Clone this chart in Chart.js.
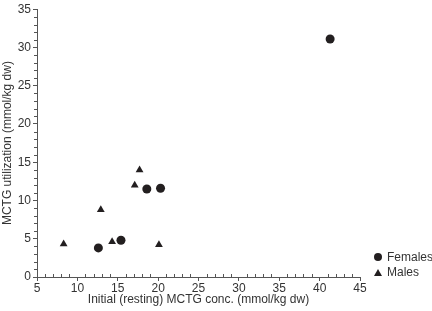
<!DOCTYPE html>
<html lang="en">
<head>
<meta charset="UTF-8">
<title>MCTG utilization</title>
<script src="https://cdn.jsdelivr.net/npm/chart.js"></script>
<style>
  html, body { margin: 0; padding: 0; background: #fff; }
  #c { display: block; }
</style>
</head>
<body>
<canvas id="c" width="432" height="311"></canvas>
<script>
// data
const femalesX = [12.6, 15.4, 18.6, 20.3, 41.3];
const femalesY = [3.8, 4.8, 11.5, 11.6, 31.1];
const malesX = [8.3, 12.9, 14.3, 17.1, 17.7, 20.1];
const malesY = [4.3, 8.8, 4.6, 12.0, 14.0, 4.2];
const xTicks = [5, 10, 15, 20, 25, 30, 35, 40, 45];
const yTicks = [0, 5, 10, 15, 20, 25, 30, 35];

const ink = '#231f20';
const axisCol = '#555';
const font = 'Liberation Sans, Arial, sans-serif';

const toPoints = (xs, ys) => xs.map((x, i) => ({x: x, y: ys[i]}));

// small minor ticks every 1 unit
const minorTicks = {
  id: 'minorTicks',
  afterDraw(chart) {
    const {ctx, scales: {x, y}, chartArea: a} = chart;
    ctx.save();
    ctx.strokeStyle = axisCol;
    ctx.lineWidth = 1;
    ctx.beginPath();
    for (let v = x.min; v <= x.max; v++) {
      if (v % 5 === 0) continue;
      const px = Math.round(x.getPixelForValue(v)) + 0.5;
      ctx.moveTo(px, a.bottom);
      ctx.lineTo(px, a.bottom - 3);
    }
    for (let v = y.min; v <= y.max; v++) {
      if (v % 5 === 0) continue;
      const py = Math.round(y.getPixelForValue(v)) + 0.5;
      ctx.moveTo(a.left, py);
      ctx.lineTo(a.left - 3, py);
    }
    ctx.stroke();
    ctx.restore();
  }
};

// legend to the right of the plot, lower corner
const cornerLegend = {
  id: 'cornerLegend',
  afterDraw(chart) {
    const {ctx} = chart;
    ctx.save();
    ctx.fillStyle = ink;
    ctx.beginPath();
    ctx.arc(378, 257, 4, 0, Math.PI * 2);
    ctx.fill();
    ctx.beginPath();
    ctx.moveTo(378, 269);
    ctx.lineTo(382, 276);
    ctx.lineTo(374, 276);
    ctx.closePath();
    ctx.fill();
    ctx.font = '12px ' + font;
    ctx.textBaseline = 'middle';
    ctx.fillStyle = '#333';
    ctx.fillText('Females', 387, 258);
    ctx.fillText('Males', 387, 273);
    ctx.restore();
  }
};

new Chart(document.getElementById('c'), {
  type: 'scatter',
  data: {
    datasets: [
      {
        label: 'Females',
        data: toPoints(femalesX, femalesY),
        pointStyle: 'circle',
        pointRadius: 4.5,
        backgroundColor: ink,
        borderColor: ink,
        borderWidth: 0
      },
      {
        label: 'Males',
        data: toPoints(malesX, malesY),
        pointStyle: 'triangle',
        pointRadius: 4.5,
        backgroundColor: ink,
        borderColor: ink,
        borderWidth: 0
      }
    ]
  },
  options: {
    responsive: false,
    animation: false,
    layout: { padding: { top: 4, right: 72, left: 0, bottom: 0 } },
    plugins: {
      legend: { display: false },
      tooltip: { enabled: false }
    },
    scales: {
      x: {
        type: 'linear',
        min: 5, max: 45,
        afterBuildTicks: s => { s.ticks = xTicks.map(v => ({value: v})); },
        grid: { drawOnChartArea: false, tickLength: 4, color: axisCol },
        border: { color: axisCol },
        ticks: { color: '#333', font: { family: font, size: 12 }, padding: 0, maxRotation: 0 },
        title: {
          display: true,
          text: 'Initial (resting) MCTG conc. (mmol/kg dw)',
          color: '#333',
          font: { family: font, size: 12 },
          padding: { top: 0, bottom: 4 }
        },
        afterFit: s => { s.height = 34; }
      },
      y: {
        type: 'linear',
        min: 0, max: 35,
        afterBuildTicks: s => { s.ticks = yTicks.map(v => ({value: v})); },
        grid: { drawOnChartArea: false, tickLength: 4, color: axisCol },
        border: { color: axisCol },
        ticks: { color: '#333', font: { family: font, size: 12 }, padding: 2 },
        title: {
          display: true,
          text: 'MCTG utilization (mmol/kg dw)',
          color: '#333',
          font: { family: font, size: 12 },
          padding: { top: 0, bottom: 0 }
        },
        afterFit: s => { s.width = 37; }
      }
    }
  },
  plugins: [minorTicks, cornerLegend]
});
</script>
</body>
</html>
